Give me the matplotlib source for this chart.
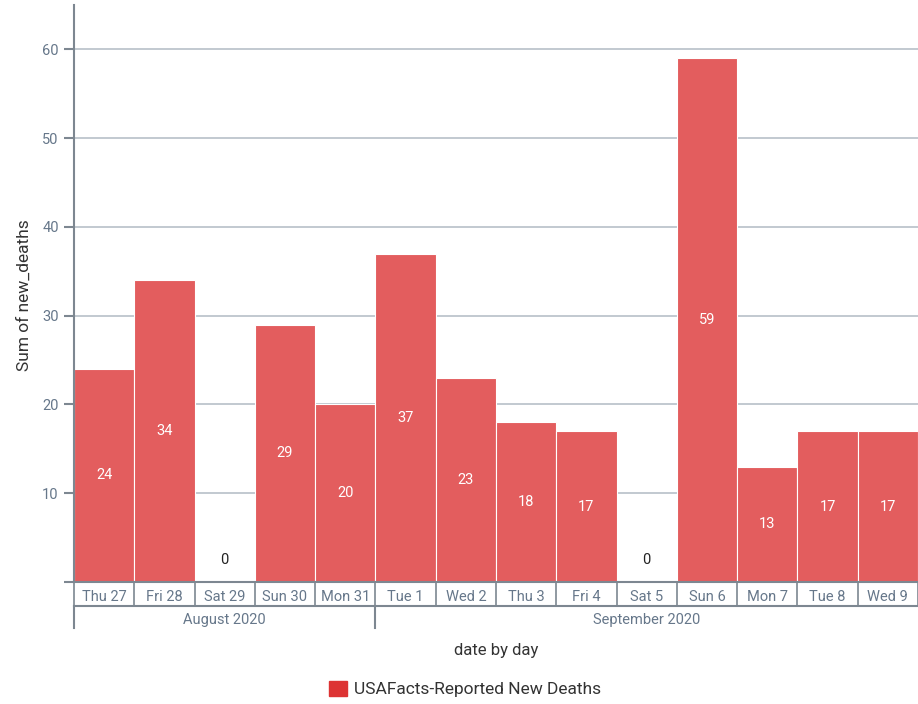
import matplotlib.pyplot as plt
from matplotlib.patches import Patch
import matplotlib.transforms as mtransforms

days = ['Thu 27', 'Fri 28', 'Sat 29', 'Sun 30', 'Mon 31', 'Tue 1', 'Wed 2',
        'Thu 3', 'Fri 4', 'Sat 5', 'Sun 6', 'Mon 7', 'Tue 8', 'Wed 9']
deaths = [24, 34, 0, 29, 20, 37, 23, 18, 17, 0, 59, 13, 17, 17]
months = ['August 2020', 'September 2020']
month_days = [5, 9]

plt.rcParams['font.family'] = ['Roboto', 'DejaVu Sans']

W, H = 918, 704
fig = plt.figure(figsize=(W / 100, H / 100), dpi=100)
ax_l, ax_r, ax_t, ax_b = 74, 918, 5, 582
ax = fig.add_axes([ax_l / W, 1 - ax_b / H, (ax_r - ax_l) / W, (ax_b - ax_t) / H])

axis_col = '#7d8791'
grid_col = '#b8c0c8'
text_col = '#66778a'
bar_col = '#e35d5e'

x = list(range(len(days)))
ax.bar(x, deaths, width=1.0, color=bar_col, edgecolor='white', linewidth=0.8, zorder=2)

for xi, v in zip(x, deaths):
    if v > 0:
        ax.text(xi, v / 2, str(v), ha='center', va='center', color='white', fontsize=10.5, zorder=3)
    else:
        ax.text(xi, 2.5, str(v), ha='center', va='center', color='#222222', fontsize=10.5, zorder=3)

ax.set_xlim(-0.5, len(days) - 0.5)
ax.set_ylim(0, 65)
ax.set_yticks(range(0, 70, 10))
ax.set_yticklabels([''] + [str(v) for v in range(10, 70, 10)])
ax.tick_params(axis='y', length=7, width=1.5, color=axis_col, labelcolor=text_col, labelsize=10.5, pad=4)
ax.set_xticks([])
ax.grid(axis='y', color=grid_col, linewidth=1.2, zorder=0)
for s in ['top', 'right']:
    ax.spines[s].set_visible(False)
ax.spines['left'].set_color(axis_col)
ax.spines['left'].set_linewidth(1.5)
ax.spines['bottom'].set_color(axis_col)
ax.spines['bottom'].set_linewidth(1.5)

# tick table below the axis
px = 1.0 / (ax_b - ax_t)
trans = mtransforms.blended_transform_factory(ax.transData, ax.transAxes)
row1 = -(606 - ax_b) * px
row2 = -(628 - ax_b) * px
ax.plot([-0.5, len(days) - 0.5], [row1, row1], transform=trans, color=axis_col, lw=1.5, clip_on=False)
for i in range(len(days) + 1):
    ax.plot([i - 0.5, i - 0.5], [0, row1], transform=trans, color=axis_col, lw=1.2, clip_on=False)
for xi, d in zip(x, days):
    ax.text(xi, -(597 - ax_b) * px, d, transform=trans, ha='center', va='center',
            color=text_col, fontsize=10.5, clip_on=False)

edges = [0]
for n in month_days:
    edges.append(edges[-1] + n)
for e in edges:
    if e < len(days):
        ax.plot([e - 0.5, e - 0.5], [row1, row2], transform=trans, color=axis_col, lw=1.5, clip_on=False)
for m, a, b in zip(months, edges[:-1], edges[1:]):
    ax.text((a + b - 1) / 2, -(620 - ax_b) * px, m, transform=trans, ha='center', va='center',
            color=text_col, fontsize=10.5, clip_on=False)

fig.text((ax_l + ax_r) / 2 / W, 1 - 651 / H, 'date by day', ha='center', va='center',
         color='#333333', fontsize=12)
fig.text(24 / W, 1 - 295 / H, 'Sum of new_deaths', ha='center', va='center', rotation=90,
         color='#333333', fontsize=12.5)

handles = [Patch(facecolor='#dd3333', edgecolor='#dd3333', label='USAFacts-Reported New Deaths')]
leg = fig.legend(handles=handles, loc='center', bbox_to_anchor=(465 / W, 1 - 689 / H), frameon=False,
                 fontsize=12.5, handlelength=1.0, handleheight=1.0, handletextpad=0.4)
for t in leg.get_texts():
    t.set_color('#333333')

fig.savefig('out.png', dpi=100)
